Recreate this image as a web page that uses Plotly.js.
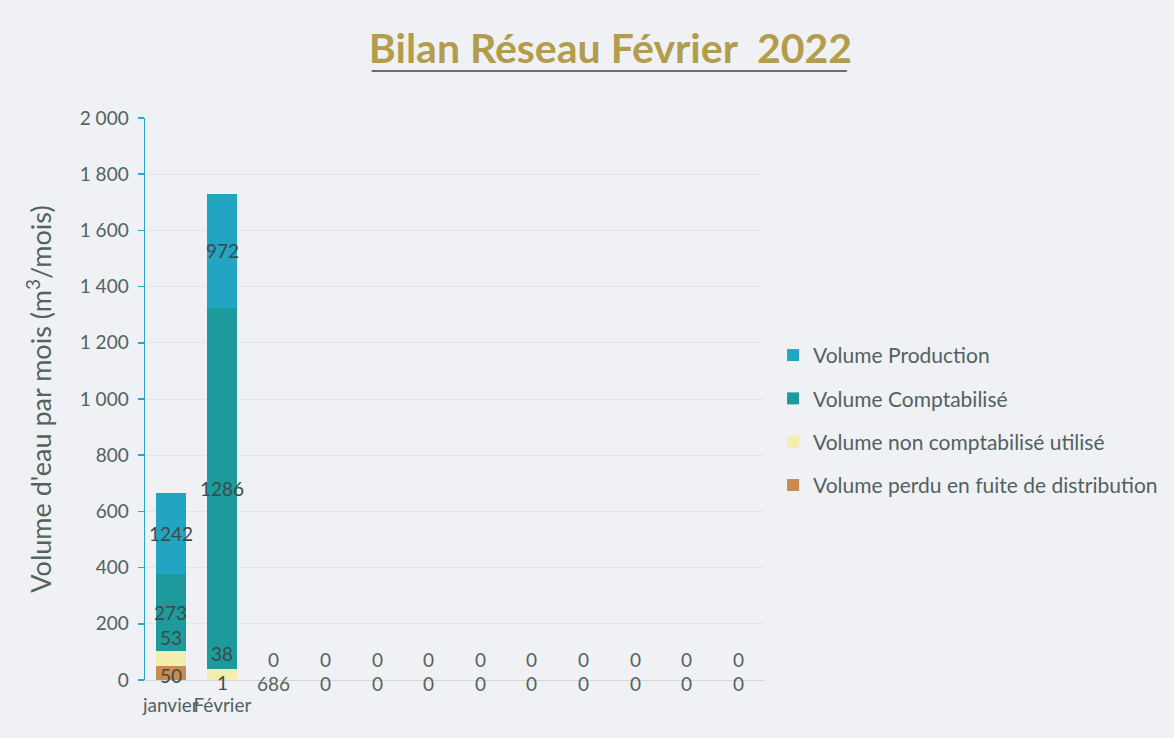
<!DOCTYPE html>
<html>
<head>
<meta charset="utf-8">
<script src="https://cdn.plot.ly/plotly-3.0.1.min.js"></script>
<style>
  html, body { margin: 0; padding: 0; background: #eff1f4; }
  #chart { width: 1174px; height: 738px; }
</style>
</head>
<body>
<div id="chart"></div>
<script>
// ---- data ----
const months = ['janvier', 'Février', 'Mars', 'Avril', 'Mai', 'Juin', 'Juillet', 'Août', 'Septembre', 'Octobre', 'Novembre', 'Décembre'];
const tickLabels = ['janvier', 'Février', '', '', '', '', '', '', '', '', '', ''];

const volumePerdu = [50, 1, 0, 0, 0, 0, 0, 0, 0, 0, 0, 0];
const volumeNonComptabilise = [53, 38, 0, 0, 0, 0, 0, 0, 0, 0, 0, 0];
const volumeComptabilise = [273, 1286, 0, 0, 0, 0, 0, 0, 0, 0, 0, 0];
const volumeProduction = [289, 405, 0, 0, 0, 0, 0, 0, 0, 0, 0, 0];

// data labels as printed on the chart
const labelsPerdu = ['50', '1', '686', '0', '0', '0', '0', '0', '0', '0', '0', '0'];
const labelsNonComptabilise = ['53', '38', '0', '0', '0', '0', '0', '0', '0', '0', '0', '0'];
const labelsComptabilise = ['273', '1286', '', '', '', '', '', '', '', '', '', ''];
const labelsProduction = ['1242', '972', '', '', '', '', '', '', '', '', '', ''];

const yTicks = [0, 200, 400, 600, 800, 1000, 1200, 1400, 1600, 1800, 2000];

// ---- styles ----
const FONT = 'Lato, "Open Sans", sans-serif';
const TXT = '#52625f';
const colors = {
  perdu: '#c98b50',
  nonCompta: '#f3eeab',
  compta: '#1d9a9c',
  production: '#22a5c3'
};

const series = [
  { name: 'Volume perdu en fuite de distribution', y: volumePerdu, color: colors.perdu, rank: 4 },
  { name: 'Volume non comptabilisé utilisé', y: volumeNonComptabilise, color: colors.nonCompta, rank: 3 },
  { name: 'Volume Comptabilisé', y: volumeComptabilise, color: colors.compta, rank: 2 },
  { name: 'Volume Production', y: volumeProduction, color: colors.production, rank: 1 }
];

const traces = series.map((s, i) => ({
  type: 'bar',
  x: months,
  y: s.y,
  name: s.name,
  marker: { color: s.color, line: { width: 0 } },
  legendgroup: 'g' + i,
  legendrank: s.rank,
  hoverinfo: 'skip'
}));

// ---- data label annotations (positioned in data coordinates) ----
const annotations = [];
const labelSets = [
  { labels: labelsPerdu, idx: 0, shift: -3 },
  { labels: labelsNonComptabilise, idx: 1, shift: 21 },
  { labels: labelsComptabilise, idx: 2, shift: 0 },
  { labels: labelsProduction, idx: 3, shift: 0 }
];
labelSets.forEach(set => {
  months.forEach((m, j) => {
    const txt = set.labels[j];
    if (!txt) return;
    let base = 0;
    for (let k = 0; k < set.idx; k++) base += series[k].y[j];
    const yc = base + series[set.idx].y[j] / 2;
    annotations.push({
      x: m, y: yc, xref: 'x', yref: 'y',
      text: txt, showarrow: false, yshift: set.shift,
      font: { family: FONT, size: 19, color: j < 2 ? '#3e4a48' : '#55635f' }
    });
  });
});

const shownTicks = months.filter((m, i) => tickLabels[i] !== '');
const shownTickText = tickLabels.filter(t => t !== '');

const layout = {
  width: 1174,
  height: 738,
  autosize: false,
  paper_bgcolor: '#eff1f4',
  plot_bgcolor: '#eff1f4',
  margin: { l: 145, r: 409, t: 118, b: 58 },
  separators: ', ',
  barmode: 'stack',
  bargap: 0.42,
  font: { family: FONT, color: TXT },
  title: {
    text: '<b>Bilan Réseau Février\u00a0\u00a02022</b>',
    font: { family: FONT, size: 41, color: '#b39d4c' },
    x: 0.52, xanchor: 'center',
    y: 0.934, yanchor: 'middle'
  },
  xaxis: {
    type: 'category',
    categoryorder: 'array',
    categoryarray: months,
    tickmode: 'array',
    tickvals: shownTicks,
    ticktext: shownTickText,
    tickangle: 0,
    showline: true,
    linecolor: '#d3d7da',
    linewidth: 1,
    showgrid: false,
    ticks: '',
    ticklabelstandoff: 8,
    tickfont: { family: FONT, size: 19, color: TXT },
    automargin: false
  },
  yaxis: {
    range: [0, 2000],
    tickmode: 'array',
    tickvals: yTicks,
    tickformat: ',d',
    showline: true,
    linecolor: '#2aa7c9',
    linewidth: 1.5,
    ticks: 'outside',
    ticklen: 6,
    tickcolor: '#2aa7c9',
    tickwidth: 1.5,
    ticklabelstandoff: 5,
    showgrid: true,
    gridcolor: '#e3e6e9',
    gridwidth: 1,
    zeroline: false,
    tickfont: { family: FONT, size: 19, color: TXT },
    title: {
      text: "Volume d'eau par mois (m<sup>3</sup>/mois)",
      font: { family: FONT, size: 27, color: TXT },
      standoff: 20
    },
    automargin: false
  },
  legend: {
    x: 1.013, xanchor: 'left',
    y: 0.614, yanchor: 'top',
    traceorder: 'grouped',
    tracegroupgap: 13,
    font: { family: FONT, size: 21, color: TXT },
    bgcolor: 'rgba(0,0,0,0)',
    itemwidth: 30
  },
  annotations: annotations,
  shapes: [{
    type: 'line', xref: 'paper', yref: 'paper',
    x0: (372 - 145) / 620, x1: (848 - 145) / 620,
    y0: (680 - 71) / 562, y1: (680 - 71) / 562,
    line: { color: '#7d6273', width: 2 }
  }]
};

Plotly.newPlot('chart', traces, layout, { displayModeBar: false, staticPlot: true });
</script>
</body>
</html>
